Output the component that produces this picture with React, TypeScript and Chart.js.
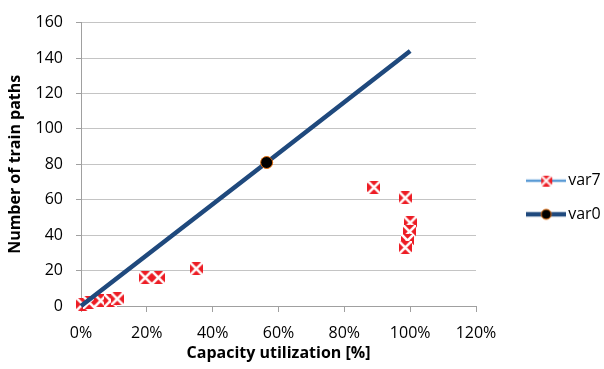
import React, { useEffect, useRef } from 'react';
import { Chart, registerables } from 'chart.js';

Chart.register(...registerables);

// ---- data ----
const seriesNames = ['var7', 'var0'];
const var7X = [0.5, 2.5, 6, 9, 11, 19.5, 23.5, 35, 89, 98.5, 100, 99.8, 99.2, 98.5];
const var7Y = [1, 2, 3, 3, 4, 16, 16, 21, 67, 61, 47, 42, 37, 33];
const var0X = [0, 56.4, 100];
const var0Y = [0, 81, 144];
const var0MarkerRadius = [0, 6, 0];
const xAxisRange = [0, 120];
const xAxisStep = 20;
const yAxisRange = [0, 160];
const yAxisStep = 20;

const RED = '#ED1C24';
const LIGHT_BLUE = '#5B9BD5';
const NAVY = '#1F497D';
const ORANGE = '#E46C0A';
const FONT = "'Open Sans', sans-serif";

function makeCross(size: number): HTMLCanvasElement {
  const c = document.createElement('canvas');
  c.width = size;
  c.height = size;
  const g = c.getContext('2d')!;
  g.fillStyle = RED;
  g.fillRect(0, 0, size, size);
  g.strokeStyle = '#ffffff';
  g.lineWidth = size * 0.2;
  g.beginPath();
  g.moveTo(0, 0);
  g.lineTo(size, size);
  g.moveTo(size, 0);
  g.lineTo(0, size);
  g.stroke();
  return c;
}

function makeLegendVar7(): HTMLCanvasElement {
  const c = document.createElement('canvas');
  c.width = 40;
  c.height = 14;
  const g = c.getContext('2d')!;
  g.strokeStyle = LIGHT_BLUE;
  g.lineWidth = 2.5;
  g.beginPath();
  g.moveTo(0, 7);
  g.lineTo(40, 7);
  g.stroke();
  g.drawImage(makeCross(11), 14.5, 1.5);
  return c;
}

function makeLegendVar0(): HTMLCanvasElement {
  const c = document.createElement('canvas');
  c.width = 40;
  c.height = 14;
  const g = c.getContext('2d')!;
  g.strokeStyle = NAVY;
  g.lineWidth = 4.5;
  g.beginPath();
  g.moveTo(0, 7);
  g.lineTo(40, 7);
  g.stroke();
  g.beginPath();
  g.arc(20, 7, 5, 0, Math.PI * 2);
  g.fillStyle = '#000';
  g.fill();
  g.strokeStyle = ORANGE;
  g.lineWidth = 1;
  g.stroke();
  return c;
}

export default function App() {
  const ref = useRef<HTMLCanvasElement>(null);

  useEffect(() => {
    if (!ref.current) return;
    Chart.defaults.font.family = FONT;
    Chart.defaults.color = '#000';
    const marker = makeCross(13);
    const legendImgs = [makeLegendVar7(), makeLegendVar0()];

    const chart = new Chart(ref.current, {
      type: 'scatter',
      data: {
        datasets: [
          {
            label: seriesNames[0],
            data: var7X.map((x, i) => ({ x, y: var7Y[i] })),
            showLine: false,
            pointStyle: marker as any,
            pointRadius: 7,
            borderColor: LIGHT_BLUE,
            backgroundColor: RED,
            order: 1,
            clip: false as any,
          },
          {
            label: seriesNames[1],
            data: var0X.map((x, i) => ({ x, y: var0Y[i] })),
            showLine: true,
            borderColor: NAVY,
            borderWidth: 4.5,
            pointRadius: var0MarkerRadius,
            pointBackgroundColor: '#000',
            pointBorderColor: ORANGE,
            pointBorderWidth: 1,
            order: 0,
            clip: false as any,
          },
        ],
      },
      options: {
        responsive: false,
        animation: false,
        events: [],
        layout: { padding: { left: 0, top: 20, right: 0, bottom: 0 } },
        scales: {
          x: {
            type: 'linear',
            min: xAxisRange[0],
            max: xAxisRange[1],
            ticks: {
              stepSize: xAxisStep,
              callback: (v: any) => v + '%',
              font: { size: 16 },
              color: '#000',
              padding: 12,
            },
            grid: { drawOnChartArea: false, tickLength: 6, color: '#A0A0A0' },
            border: { color: '#A0A0A0' },
            title: {
              display: true,
              text: 'Capacity utilization [%]',
              font: { size: 16, weight: 'bold' },
              color: '#000',
              padding: { top: 0, bottom: 6.3 },
            },
            afterFit: (s: any) => {
              s.height = 63;
            },
          },
          y: {
            type: 'linear',
            position: 'left',
            min: yAxisRange[0],
            max: yAxisRange[1],
            ticks: {
              stepSize: yAxisStep,
              font: { size: 16 },
              color: '#000',
              padding: 13,
            },
            grid: { color: '#C4C4C4', tickLength: 5, tickColor: '#A0A0A0' },
            border: { color: '#A0A0A0' },
            title: {
              display: true,
              text: 'Number of train paths',
              font: { size: 16, weight: 'bold' },
              color: '#000',
              padding: { top: 6, bottom: 0 },
            },
            afterFit: (s: any) => {
              s.width = 81;
            },
          },
          gap: {
            type: 'linear',
            position: 'right',
            display: true,
            ticks: { display: false },
            grid: { display: false, drawTicks: false },
            border: { display: false },
            afterFit: (s: any) => {
              s.width = 38.6;
            },
          },
        },
        plugins: {
          tooltip: { enabled: false },
          legend: {
            position: 'right',
            maxWidth: 89.4,
            title: { display: true, text: ' ', padding: 0, font: { size: 6, lineHeight: 1 } },
            labels: {
              usePointStyle: true,
              pointStyleWidth: 28,
              padding: 17.6,
              color: '#000',
              font: { size: 16 },
              generateLabels: (c: any) => {
                const items = (Chart.defaults.plugins.legend.labels as any).generateLabels(c);
                items.forEach((it: any) => {
                  it.pointStyle = legendImgs[it.datasetIndex];
                });
                items.sort((a: any, b: any) => a.datasetIndex - b.datasetIndex);
                return items;
              },
            },
          },
        },
      } as any,
    });
    return () => chart.destroy();
  }, []);

  return (
    <div style={{ position: 'absolute', left: 0, top: 0, width: 604, height: 369 }}>
      <canvas ref={ref} width={604} height={369} style={{ display: 'block' }} />
    </div>
  );
}
